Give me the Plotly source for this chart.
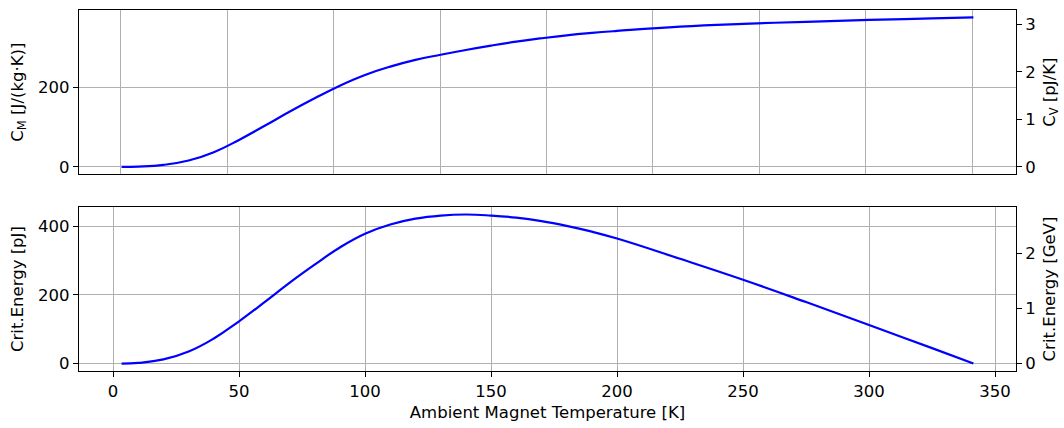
import numpy as np
import plotly.graph_objects as go

# ---- data ----
T_cm = [3.4, 10, 20, 30, 40, 50, 60, 70, 80, 90, 100, 110, 120, 130, 140, 150, 160, 170, 180,
        190, 200, 225, 250, 275, 300, 325, 341.4]
C_M = [0, 0.8, 5, 16, 37, 68, 103, 139, 173, 205, 232, 253, 270, 283, 295, 306, 316, 324.5, 332,
       338, 343, 354, 361, 366, 371, 374.5, 377]

T_e = [3.4, 10, 20, 30, 40, 50, 60, 70, 80, 90, 100, 110, 120, 130, 140, 150, 160, 170,
       180, 190, 200, 225, 250, 275, 300, 325, 341.4]
E_crit = [0, 2, 12, 35, 73, 123, 178, 235, 288, 338, 378, 405, 422, 431, 434, 431, 425, 415,
          401, 384, 364, 305, 244, 179, 112, 45, 0]

CM_PER_CV = 120.0      # J/(kg K) per pJ/K
PJ_PER_GEV = 160.2     # pJ per GeV

x_title = "Ambient Magnet Temperature [K]"
y1_title = "C<sub>M</sub> [J/(kg·K)]"
y1r_title = "C<sub>V</sub> [pJ/K]"
y2_title = "Crit.Energy [pJ]"
y2r_title = "Crit.Energy [GeV]"

FONT = dict(family="DejaVu Sans", size=16.5, color="black")
GRID = "#b0b0b0"

tmin, tmax = min(T_e), max(T_e)
pad = 0.05 * (tmax - tmin)
xr = [tmin - pad, tmax + pad]
top_grid = list(np.linspace(tmin - 0.4, tmax - 0.4, 9))

def yrange(vals):
    lo, hi = min(vals), max(vals)
    p = 0.05 * (hi - lo)
    return [lo - p, hi + p]

r1 = yrange(C_M)
r2 = yrange(E_crit)

LINE = dict(color="blue", width=2.2, shape="spline", smoothing=1.3)

fig = go.Figure()
fig.add_trace(go.Scatter(x=T_cm, y=C_M, mode="lines", line=LINE,
                         xaxis="x", yaxis="y", showlegend=False))
fig.add_trace(go.Scatter(x=T_cm, y=[v / CM_PER_CV for v in C_M], mode="lines", opacity=0,
                         line=dict(width=0), xaxis="x", yaxis="y3", showlegend=False, hoverinfo="skip"))
fig.add_trace(go.Scatter(x=T_e, y=E_crit, mode="lines", line=LINE,
                         xaxis="x2", yaxis="y2", showlegend=False))
fig.add_trace(go.Scatter(x=T_e, y=[v / PJ_PER_GEV for v in E_crit], mode="lines", opacity=0,
                         line=dict(width=0), xaxis="x2", yaxis="y4", showlegend=False, hoverinfo="skip"))

axis_common = dict(showline=True, linecolor="black", linewidth=1.3, mirror=True,
                   gridcolor=GRID, gridwidth=1.1, zeroline=False,
                   tickfont=FONT, ticklen=5, tickwidth=1.1, tickcolor="black")

fig.update_layout(
    width=1064, height=428,
    margin=dict(l=79, r=46, t=9, b=55),
    paper_bgcolor="white", plot_bgcolor="white",
    font=FONT,
    xaxis=dict(axis_common, domain=[0, 1], anchor="y", range=xr, tickvals=top_grid,
               showticklabels=False, ticks="", showgrid=True),
    yaxis=dict(axis_common, domain=[0.5448, 1], anchor="x", range=r1, tickvals=[0, 200],
               ticks="outside", title=dict(text=y1_title, font=FONT, standoff=10)),
    yaxis3=dict(overlaying="y", side="right", anchor="x", range=[v / CM_PER_CV for v in r1],
                tickvals=[0, 1, 2, 3], ticks="outside", ticklen=5, tickwidth=1.1, tickcolor="black",
                tickfont=FONT, showgrid=False, zeroline=False, showline=False,
                title=dict(text=y1r_title, font=FONT, standoff=8)),
    xaxis2=dict(axis_common, domain=[0, 1], anchor="y2", range=xr,
                tickvals=[0, 50, 100, 150, 200, 250, 300, 350], ticks="outside",
                title=dict(text=x_title, font=FONT, standoff=6)),
    yaxis2=dict(axis_common, domain=[0, 0.4541], anchor="x2", range=r2, tickvals=[0, 200, 400],
                ticks="outside", title=dict(text=y2_title, font=FONT, standoff=10)),
    yaxis4=dict(overlaying="y2", side="right", anchor="x2", range=[v / PJ_PER_GEV for v in r2],
                tickvals=[0, 1, 2], ticks="outside", ticklen=5, tickwidth=1.1, tickcolor="black",
                tickfont=FONT, showgrid=False, zeroline=False, showline=False,
                title=dict(text=y2r_title, font=FONT, standoff=8)),
)

fig.write_html("out.html", config={"displayModeBar": False},
               post_script="document.body.style.margin='0';")
